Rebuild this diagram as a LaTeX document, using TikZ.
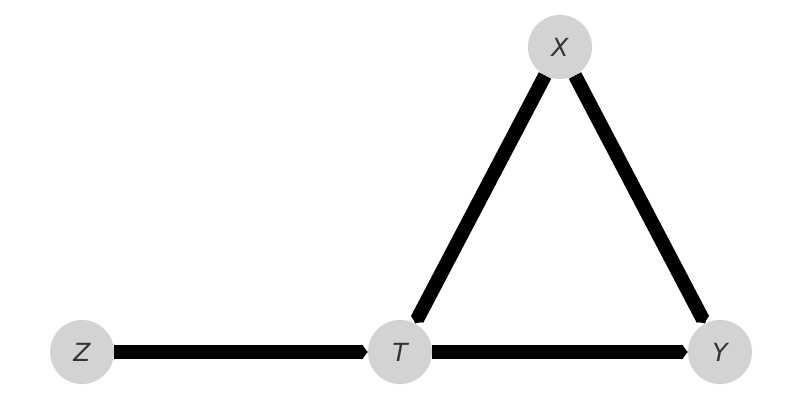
\documentclass[tikz,border=0pt]{standalone}
\usepackage{fontspec}
\setsansfont{DejaVu Sans}
\usetikzlibrary{arrows.meta}
\begin{document}
\begin{tikzpicture}[x=1pt,y=-1pt,
  vnode/.style={circle,fill={rgb,255:red,211;green,211;blue,211},draw=none,minimum size=64pt,inner sep=0pt,
    font=\sffamily\itshape\fontsize{25}{25}\selectfont,text={rgb,255:red,51;green,51;blue,51}},
  edge/.style={line width=14pt,-{Latex[length=5pt,width=15pt]}}]
\useasboundingbox (0,0) rectangle (800,400);
\node[vnode] (Z) at (82,352) {Z};
\node[vnode] (T) at (400,352) {T};
\node[vnode] (Y) at (720,352) {Y};
\node[vnode] (X) at (560,47) {X};
\draw[edge] (Z) -- (T);
\draw[edge] (T) -- (Y);
\draw[edge] (X) -- (T);
\draw[edge] (X) -- (Y);
\end{tikzpicture}
\end{document}
